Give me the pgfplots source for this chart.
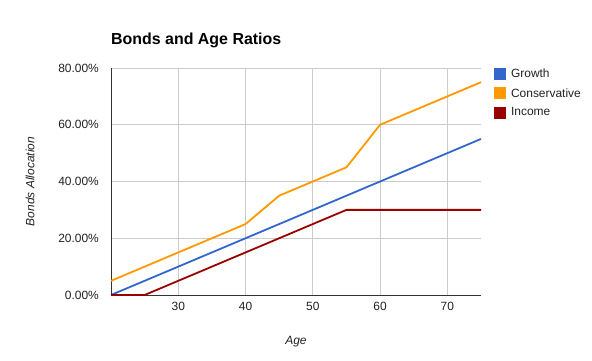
\documentclass[border=0pt]{standalone}
\usepackage{pgfplots}
\pgfplotsset{compat=1.18}
\usepackage{fontspec}
\setmainfont{Liberation Sans}
\definecolor{cGrowth}{HTML}{3366CC}
\definecolor{cCons}{HTML}{FF9900}
\definecolor{cInc}{HTML}{990000}
\definecolor{gridc}{HTML}{CCCCCC}
\definecolor{axc}{HTML}{333333}
\definecolor{txt}{HTML}{222222}
\begin{document}
\begin{tikzpicture}
\useasboundingbox (0,0) rectangle (592bp,361bp);
\begin{axis}[
  at={(111bp,66bp)}, anchor=south west,
  scale only axis, width=370bp, height=227bp,
  xmin=20, xmax=75, ymin=0, ymax=80,
  xtick={30,40,50,60,70},
  ytick={0,20,40,60,80},
  yticklabels={0.00\%,20.00\%,40.00\%,60.00\%,80.00\%},
  /pgf/number format/assume math mode=true,
  grid=major,
  major grid style={gridc, line width=0.8pt},
  axis x line*=bottom, axis y line*=left,
  axis line style={-, axc, line width=0.9pt},
  major tick length=0pt,
  tick label style={font=\fontsize{12}{14}\selectfont, text=txt, inner sep=0pt},
  yticklabel style={xshift=-12bp},
  xticklabel style={yshift=-7bp},
  xlabel={\itshape Age},
  ylabel={\itshape Bonds Allocation},
  label style={font=\fontsize{12}{14}\selectfont, text=txt},
  xlabel style={at={(axis description cs:0.5,0)}, anchor=center, yshift=-47bp},
  ylabel style={at={(axis description cs:0,0.5)}, anchor=center, yshift=81bp},
  title={Bonds and Age Ratios},
  title style={at={(axis description cs:0,1)}, anchor=base west, yshift=18bp, inner sep=0pt, font=\bfseries\fontsize{16}{18}\selectfont},
  legend style={draw=none, fill=none, at={(rel axis cs:1,1)}, anchor=north west, xshift=10bp, yshift=2bp,
    font=\fontsize{12}{14}\selectfont, text=txt, row sep=7bp,
    nodes={inner sep=1bp}},
  legend cell align=left,
  legend image code/.code={\fill[#1,draw=none] (0bp,-6bp) rectangle (12bp,6bp); \path (15bp,0bp);},
  every axis plot/.append style={line width=1.8pt, line join=round},
  clip=false,
]
\addplot[cGrowth] coordinates {(20,0) (75,55)};
\addplot[cCons] coordinates {(20,5) (40,25) (45,35) (55,45) (60,60) (75,75)};
\addplot[cInc] coordinates {(20,0) (25,0) (55,30) (75,30)};
\legend{Growth,Conservative,Income}
\end{axis}
\end{tikzpicture}
\end{document}
